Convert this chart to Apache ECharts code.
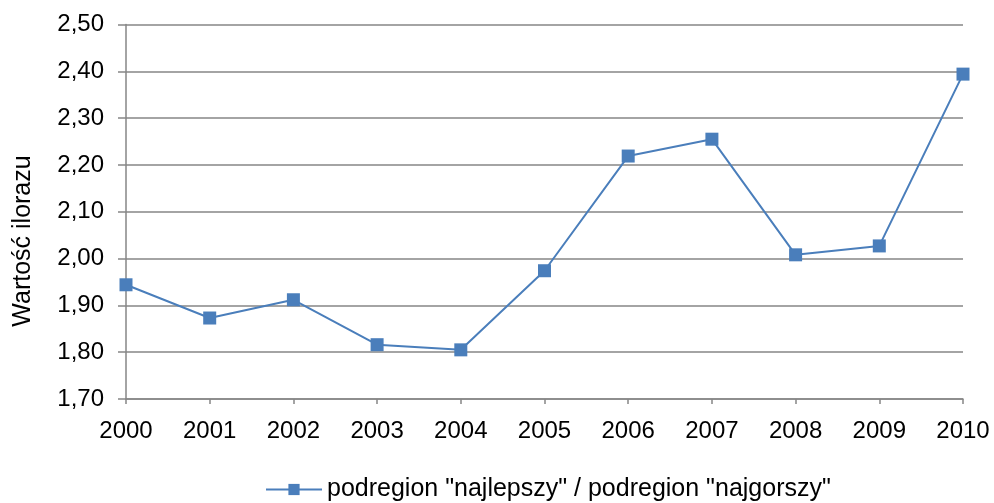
<!DOCTYPE html>
<html><head><meta charset="utf-8">
<script src="https://cdn.jsdelivr.net/npm/echarts@6/dist/echarts.min.js"></script>
<style>html,body{margin:0;padding:0;background:#fff}#c{width:994px;height:503px}</style>
</head><body><div id="c"></div>
<script>
const years = ['2000','2001','2002','2003','2004','2005','2006','2007','2008','2009','2010'];
const ratio = [1.944, 1.873, 1.912, 1.816, 1.805, 1.974, 2.219, 2.255, 2.008, 2.027, 2.394];
const seriesName = 'podregion "najlepszy" / podregion "najgorszy"';
const yAxisTitle = 'Wartość ilorazu';

const chart = echarts.init(document.getElementById('c'), null, {renderer: 'canvas'});
const font = 'Liberation Sans, Arial, sans-serif';
chart.setOption({
  animation: false,
  grid: {left: 126, right: 31, top: 24.5, bottom: 104, containLabel: false},
  xAxis: {
    type: 'category', data: years, boundaryGap: false,
    axisLine: {lineStyle: {color: '#868686', width: 1.5}},
    axisTick: {show: true, length: 5, lineStyle: {color: '#868686', width: 1.5}},
    axisLabel: {color: '#000', fontFamily: font, fontSize: 24, margin: 20},
    splitLine: {show: false}
  },
  yAxis: {
    type: 'value', min: 1.7, max: 2.5, interval: 0.1,
    axisLine: {show: true, lineStyle: {color: '#868686', width: 1.5}},
    axisTick: {show: true, length: 8, lineStyle: {color: '#868686', width: 1.5}},
    axisLabel: {color: '#000', fontFamily: font, fontSize: 24, margin: 22,
      formatter: v => v.toFixed(2).replace('.', ',')},
    splitLine: {lineStyle: {color: '#868686', width: 1.5}}
  },
  legend: {
    top: 472, left: 260, itemWidth: 56, itemHeight: 14, itemGap: 10,
    textStyle: {color: '#000', fontFamily: font, fontSize: 25},
    data: [seriesName]
  },
  graphic: [{
    type: 'text', x: 23, y: 241, rotation: Math.PI / 2,
    style: {text: yAxisTitle, fill: '#000', font: '25px ' + font, align: 'center', verticalAlign: 'middle'}
  }],
  series: [{
    name: seriesName, type: 'line', data: ratio,
    symbol: 'rect', symbolSize: 13,
    lineStyle: {color: '#4a7ebb', width: 2},
    itemStyle: {color: '#4a7ebb'}
  }]
});
</script></body></html>
